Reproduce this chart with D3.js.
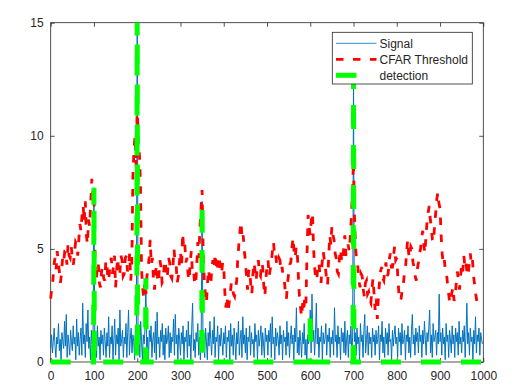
<!DOCTYPE html>
<html><head><meta charset="utf-8">
<script src="https://cdn.jsdelivr.net/npm/d3@7/dist/d3.min.js"></script>
<style>body{margin:0;background:#fff}svg{display:block}text{font-family:"Liberation Sans",Arial,sans-serif;font-size:12px;fill:#262626}</style>
</head><body><svg id="c" width="524" height="391"></svg>
<script>
// ---- data ----
const xTicks = [0,100,200,300,400,500,600,700,800,900,1000];
const yTicks = [0,5,10,15];
const seriesNames = ["Signal","CFAR Threshold","detection"];
const signalStep = 2;   // sample spacing of signal values
const signal = [
0.6,1.2,0.4,0.9,1.5,0.7,0.2,1.1,0.8,1.7,0.5,1.0,0.1,1.3,0.9,0.6,1.8,0.7,2.1,0.2,1.2,0.8,0.3,1.4,0.9,
0.5,1.6,0.8,1.1,0.1,1.9,0.7,1.3,0.3,1.0,1.5,0.3,2.6,0.8,1.2,0.2,1.7,0.9,2.3,0.6,1.1,0.1,1.4,0.8,1.2,
7.7,0.9,1.3,0.2,1.6,0.7,1.1,0.1,1.4,0.8,1.2,0.3,1.5,0.9,0.2,1.3,0.7,2.0,0.2,1.1,0.8,1.6,0.1,1.0,1.9,
0.3,1.2,0.8,1.5,0.1,2.3,0.7,1.0,1.4,0.2,1.1,0.8,1.7,0.2,1.3,2.3,0.3,1.0,1.5,0.4,1.2,0.9,0.1,1.6,0.8,
16,0.7,1.3,0.2,1.8,0.9,0.1,1.2,0.8,1.5,3.7,0.3,1.1,0.1,1.4,0.9,1.6,0.2,1.0,1.3,0.4,1.8,0.1,2.2,0.8,
1.1,0.2,1.4,0.9,1.7,0.3,1.2,0.1,1.5,0.8,1.0,1.6,0.2,1.3,0.4,1.1,0.9,1.9,0.3,2.1,0.8,1.2,0.1,1.5,1.0,
0.3,1.3,0.8,1.6,0.1,1.1,0.9,1.4,0.2,1.8,0.7,1.2,0.1,1.5,2.6,0.5,1.0,0.2,1.3,0.9,1.7,0.3,1.1,0.1,1.4,
7.1,0.8,1.2,0.2,1.5,0.9,0.1,1.3,0.7,1.8,1.0,0.3,1.4,0.8,2.0,0.2,1.1,0.9,1.6,0.1,1.2,0.7,1.5,0.9,0.3,
1.3,0.8,1.6,0.2,1.1,0.9,1.4,0.1,1.7,0.7,1.2,0.3,1.5,0.9,0.1,1.3,0.8,1.8,0.3,1.0,1.4,0.2,2.0,0.8,1.2,
0.4,1.5,0.1,1.1,0.9,1.6,0.3,1.3,0.8,1.0,0.2,1.7,0.9,1.2,0.1,1.4,0.7,1.1,1.6,0.3,1.3,0.8,0.2,1.5,0.9,
1.2,0.3,1.4,0.9,1.7,0.2,2.0,0.8,1.1,0.1,1.5,0.7,1.3,1.0,0.3,1.6,0.8,1.2,0.1,1.4,0.9,1.1,0.3,1.8,0.7,
1.3,0.2,1.0,1.6,0.8,1.2,0.1,1.5,0.9,2.4,0.4,1.1,0.3,1.4,0.9,0.2,1.3,0.8,1.7,0.3,1.0,0.1,1.2,0.8,1.1,
2.3,0.4,3.0,0.9,1.4,0.3,1.2,2.6,0.8,1.5,0.2,1.1,0.9,1.6,0.1,1.3,0.8,1.0,1.7,0.3,1.2,0.9,1.5,0.2,1.1,
0.8,1.4,0.3,2.4,0.9,1.2,0.2,1.6,0.8,1.1,0.1,1.5,0.9,1.3,0.4,1.8,0.3,1.0,1.4,0.2,1.2,0.8,1.6,0.4,1.1,
12.6,0.9,1.3,0.3,1.5,0.8,1.1,0.1,1.7,0.9,1.2,0.2,1.4,2.1,0.4,1.0,1.6,0.3,1.3,0.8,1.1,0.2,1.5,0.9,1.2,
0.3,1.4,0.8,1.0,1.6,0.1,1.2,0.9,1.8,0.4,1.1,0.2,1.5,0.8,1.3,0.3,1.7,0.9,1.0,0.1,1.4,0.7,1.2,1.6,0.8,
1.1,0.2,1.5,0.9,1.3,0.3,1.7,0.8,1.0,1.4,0.1,1.2,0.9,1.6,0.4,1.1,0.2,1.4,2.1,0.8,1.2,0.3,1.5,0.9,1.3,
0.4,1.6,0.9,1.2,0.2,1.4,0.8,1.8,1.0,0.3,1.3,0.9,1.5,2.3,0.4,1.2,0.2,1.7,0.9,1.1,1.4,0.3,1.3,0.8,3.0,
0.9,1.3,0.3,1.5,0.8,1.1,0.1,1.7,0.9,1.2,0.2,1.4,1.0,0.4,1.6,0.8,1.2,0.2,1.5,0.9,1.3,0.3,1.8,0.8,1.1,
0.4,1.4,0.9,1.6,0.2,1.2,2.6,0.8,1.3,0.3,1.5,0.9,1.1,0.1,1.4,0.8,2.0,0.4,1.2,0.9,1.5,0.3,1.3,1.0,0.8
];
const thresholdStep = 2.5;  // sample spacing of threshold values
const threshold = [
2.8,3.3,3.6,4.3,4.6,4.1,4.9,4.4,4.0,3.5,3.9,4.6,4.4,4.9,4.9,4.3,5.2,4.7,4.6,5.1,
4.6,4.3,4.8,5.3,5.2,4.7,5.4,6.1,5.8,6.5,6.9,6.2,7.1,5.6,5.2,6.3,6.0,7.0,8.1,7.4,
7.6,4.5,3.6,4.1,4.4,3.5,3.3,4.0,4.2,3.7,3.6,4.5,4.3,3.6,3.8,4.4,4.6,3.9,4.2,4.7,
3.3,4.1,4.6,3.8,4.0,4.7,4.5,3.8,3.9,4.6,4.7,4.0,4.2,4.8,3.6,4.3,8.2,9.4,10.0,8.6,
11.4,9.7,9.2,7.9,4.1,3.3,2.8,3.5,3.0,3.8,4.1,4.6,5.4,4.3,4.6,3.7,3.2,4.0,4.3,3.5,
3.8,4.5,4.2,3.5,3.6,4.3,4.5,3.7,3.9,4.6,4.4,3.8,3.7,4.2,5.0,4.4,4.3,3.5,3.8,4.4,
4.9,4.2,5.7,5.0,5.2,4.4,4.6,3.9,3.6,4.4,4.9,4.0,4.1,3.5,3.4,4.2,5.3,4.6,6.0,6.8,
7.6,4.8,3.6,3.0,2.6,3.5,4.1,3.6,3.4,4.2,4.5,4.1,4.8,4.3,4.0,4.7,4.6,4.0,3.9,4.4,
4.2,3.1,2.4,2.9,2.2,2.6,3.0,3.5,3.4,3.0,2.9,3.3,3.6,4.6,5.2,5.8,6.2,5.4,5.6,4.9,
4.5,3.8,3.2,4.0,4.1,3.4,3.0,3.9,4.4,4.0,3.6,4.3,4.5,3.9,3.8,4.4,4.2,3.4,2.9,3.7,
4.2,4.5,3.8,4.1,4.4,4.9,5.3,4.7,4.8,4.3,4.3,4.6,4.5,4.0,4.2,3.7,3.6,3.1,2.8,3.5,
3.9,4.3,4.4,5.0,5.5,4.9,4.6,5.1,4.8,3.8,2.9,2.4,2.0,2.6,2.3,2.9,2.6,4.8,6.5,5.9,
5.6,6.3,6.6,5.1,4.2,3.7,3.6,4.3,4.4,3.8,3.5,4.4,4.9,4.5,4.2,3.7,3.4,4.6,5.6,5.2,
6.0,5.6,5.4,4.8,4.6,4.0,3.9,4.6,5.0,4.5,4.4,5.1,5.6,4.7,4.8,5.2,4.9,5.5,6.4,7.6,
8.9,6.2,5.0,4.4,4.2,3.6,3.3,3.9,3.8,3.2,2.9,3.5,3.6,3.0,3.1,2.7,2.6,3.2,3.7,3.0,
2.3,2.8,1.9,2.9,3.5,4.0,4.2,3.7,3.6,4.1,4.4,3.8,3.9,4.5,4.8,4.2,4.2,4.7,5.1,4.5,
4.6,3.7,3.0,2.7,2.8,3.2,3.4,3.9,4.1,4.8,5.4,4.8,4.6,5.1,5.0,4.4,4.2,3.8,3.6,4.1,
4.4,4.8,5.0,5.5,5.8,5.2,4.8,5.6,6.2,6.6,6.9,6.3,5.9,5.4,5.3,6.1,6.6,7.2,7.5,7.0,
6.8,5.6,4.8,4.3,4.5,4.0,3.9,3.4,3.0,2.6,2.8,3.1,3.3,2.7,2.9,3.5,4.0,3.6,3.2,3.8,
4.3,4.0,4.7,4.2,4.4,3.9,3.8,4.4,4.8,4.3,4.5,3.8,3.4,3.0,2.7
];
const detectionX = [100,200,220,350,600,700];
const detectionY = [7.7,16,3.7,7.1,2.3,12.6];

// ---- layout ----
const L=50.7, R=483.3, T=22.7, B=362;
const svg = d3.select("#c");
const x = d3.scaleLinear().domain([0,1000]).range([L,R]);
const y = d3.scaleLinear().domain([0,15]).range([B,T]);
const axisCol = "#262626";

const defs = svg.append("defs");
defs.append("clipPath").attr("id","clip").append("rect")
  .attr("x",L-4).attr("y",T).attr("width",R-L+8).attr("height",B-T+5);

svg.append("rect").attr("x",L).attr("y",T).attr("width",R-L).attr("height",B-T)
  .attr("fill","none").attr("stroke",axisCol).attr("stroke-width",0.8);

const fmt = d3.format("d");
const gx = svg.append("g").attr("transform",`translate(0,${B})`)
  .call(d3.axisBottom(x).tickValues(xTicks).tickFormat(fmt).tickSizeInner(-4).tickSizeOuter(0).tickPadding(9));
const gxt = svg.append("g").attr("transform",`translate(0,${T})`)
  .call(d3.axisTop(x).tickValues(xTicks).tickSizeInner(-4).tickSizeOuter(0).tickFormat(""));
const gy = svg.append("g").attr("transform",`translate(${L},0)`)
  .call(d3.axisLeft(y).tickValues(yTicks).tickFormat(fmt).tickSizeInner(-4).tickSizeOuter(0).tickPadding(7));
const gyr = svg.append("g").attr("transform",`translate(${R},0)`)
  .call(d3.axisRight(y).tickValues(yTicks).tickSizeInner(-4).tickSizeOuter(0).tickFormat(""));
[gx,gxt,gy,gyr].forEach(g=>{
  g.select(".domain").remove();
  g.selectAll("line").attr("stroke",axisCol).attr("stroke-width",0.8);
  g.selectAll("text").attr("font-size",12).attr("font-family",'"Liberation Sans",Arial,sans-serif').attr("fill",axisCol);
});

const sigPts = signal.map((v,i)=>[i*signalStep, v]);
const thrPts = threshold.map((v,i)=>[i*thresholdStep, v]);
const detPts = [[0,0]];
detectionX.forEach((d,i)=>{ detPts.push([d-1,0],[d,detectionY[i]],[d+1,0]); });
detPts.push([1000,0]);

const line = d3.line().x(d=>x(d[0])).y(d=>y(d[1]));
const plot = svg.append("g").attr("clip-path","url(#clip)");
plot.append("path").attr("d",line(sigPts)).attr("fill","none")
  .attr("stroke","#0072BD").attr("stroke-width",1).attr("stroke-linejoin","round");
plot.append("path").attr("d",line(thrPts)).attr("fill","none")
  .attr("stroke","#ff0000").attr("stroke-width",2.8).attr("stroke-dasharray","7.5,9.5");
plot.append("path").attr("d",line(detPts)).attr("fill","none")
  .attr("stroke","#00ff00").attr("stroke-width",5).attr("stroke-dasharray","20,20");

const lg = svg.append("g");
lg.append("rect").attr("x",332.3).attr("y",32.3).attr("width",140).attr("height",51.7)
  .attr("fill","#fff").attr("stroke",axisCol).attr("stroke-width",0.8);
const rows = [
  {name:seriesNames[0], y:43.3, stroke:"#0072BD", w:0.8, dash:null},
  {name:seriesNames[1], y:59.3, stroke:"#ff0000", w:2.8, dash:"7.5,9.5"},
  {name:seriesNames[2], y:75.3, stroke:"#00ff00", w:5, dash:"20.5,20"}
];
rows.forEach(r=>{
  const l = lg.append("line").attr("x1",336).attr("x2",376.5).attr("y1",r.y).attr("y2",r.y)
    .attr("stroke",r.stroke).attr("stroke-width",r.w);
  if(r.dash) l.attr("stroke-dasharray",r.dash);
  lg.append("text").attr("x",379.5).attr("y",r.y).attr("dy","0.35em").text(r.name);
});
</script></body></html>
